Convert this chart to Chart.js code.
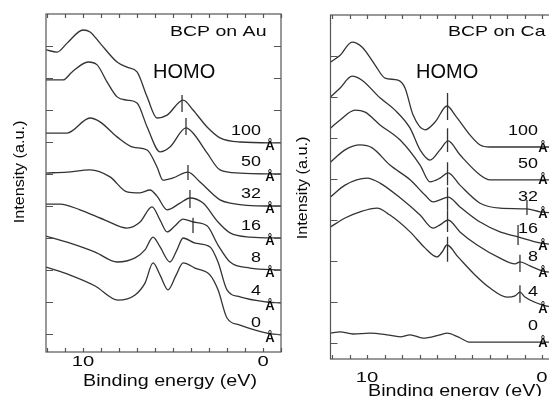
<!DOCTYPE html>
<html>
<head>
<meta charset="utf-8">
<script src="https://cdn.jsdelivr.net/npm/chart.js@4.4.0/dist/chart.umd.min.js"></script>
<style>
  html, body { margin: 0; padding: 0; background: #fff; overflow: hidden; width: 549px; height: 396px; }
  canvas { position: absolute; top: 0; }
  #chartAu { left: 0; }
  #chartCa { left: 290px; }
</style>
</head>
<body>
<canvas id="chartAu" width="290" height="396"></canvas>
<canvas id="chartCa" width="280" height="396"></canvas>
<script>
// thickness of BCP for each spectrum, top to bottom
const thicknesses = ["100", "50", "32", "16", "8", "4", "0"];

// BCP on Au: [binding energy (eV), intensity (offset units)]
const au100 = [[12.06,8.88],[11.44,8.81],[10.89,9.09],[10.0,9.5],[9.61,9.44],[9.06,9.09],[8.11,8.5],[7.56,8.34],[7.0,8.19],[6.44,7.41],[5.89,6.75],[5.33,6.84],[4.44,7.31],[3.89,7.0],[3.11,6.47],[2.39,6.13],[1.28,6.0],[-1.0,5.97]];
const au50 = [[12.06,7.94],[11.11,7.94],[10.61,8.19],[9.72,8.5],[9.22,8.41],[8.67,7.88],[8.11,7.41],[7.56,7.31],[7.0,7.22],[6.44,6.47],[5.72,5.69],[5.17,5.84],[4.28,6.44],[3.89,6.28],[3.11,5.66],[2.39,5.13],[1.28,5.03],[-1.0,5.0]];
const au32 = [[12.06,6.28],[10.89,6.28],[9.61,6.75],[9.06,6.63],[8.11,6.16],[7.22,5.84],[6.44,5.75],[5.89,5.22],[5.56,4.81],[5.0,4.88],[4.17,5.06],[3.5,4.75],[2.39,4.19],[1.83,4.09],[-0.22,4.0],[-1.0,4.0]];
const au16 = [[12.06,5.03],[10.89,5.06],[9.61,5.13],[8.5,4.91],[7.56,4.44],[6.83,4.41],[6.28,4.5],[5.89,4.31],[5.33,3.88],[4.61,4.09],[4.06,4.25],[3.33,4.09],[2.5,3.5],[1.83,3.16],[0.72,3.03],[-1.0,3.0]];
const au8 = [[12.06,4.06],[11.28,4.06],[10.17,3.88],[8.78,3.56],[7.56,3.31],[6.83,3.5],[6.17,3.97],[5.72,3.56],[5.33,3.19],[4.89,3.38],[4.44,3.59],[3.89,3.5],[3.11,3.38],[2.5,2.78],[1.83,2.25],[0.72,2.06],[-1.0,2.0]];
const au4 = [[12.06,3.06],[10.72,2.84],[9.33,2.56],[8.11,2.25],[7.11,2.38],[6.56,2.63],[6.11,3.03],[5.72,2.72],[5.17,2.25],[4.78,2.63],[4.44,3.0],[3.78,2.84],[2.94,2.72],[2.5,2.25],[2.0,1.38],[1.28,1.16],[-0.22,1.0],[-1.0,0.97]];
const au0 = [[12.06,2.09],[10.72,1.84],[9.33,1.5],[8.06,1.06],[7.11,1.22],[6.56,1.59],[6.11,2.22],[5.72,1.84],[5.28,1.38],[4.83,1.84],[4.44,2.22],[3.78,2.06],[2.94,1.84],[2.5,1.38],[2.0,0.5],[1.28,0.28],[-0.22,0.03],[-1.0,-0.03]];
// HOMO marks: [energy, low, high]
const auHomo = [[4.5,6.94,7.47],[4.28,6.22,6.75],[4.17,4.81,5.28],[4.06,3.94,4.5],[3.89,3.16,3.63]];

// BCP on Ca
const ca100 = [[12.09,6.85],[11.54,7.02],[10.86,7.34],[10.29,7.22],[9.54,6.78],[8.97,6.46],[8.23,6.41],[7.83,6.22],[7.37,5.56],[6.69,5.2],[6.11,5.39],[5.43,5.78],[4.97,5.56],[4.11,5.07],[3.54,4.83],[2.97,4.78],[-1.0,4.78]];
const ca50 = [[12.09,6.0],[11.54,6.22],[10.86,6.51],[10.29,6.41],[9.26,5.98],[8.4,5.68],[7.54,5.24],[6.97,4.71],[6.4,4.46],[5.83,4.71],[5.37,4.93],[4.69,4.59],[3.54,4.1],[2.97,3.98],[-1.0,3.98]];
const ca32 = [[12.09,5.24],[11.54,5.44],[10.69,5.68],[10.11,5.63],[9.26,5.32],[8.11,4.95],[6.97,4.34],[6.4,3.93],[5.83,4.02],[5.37,4.15],[4.69,3.85],[3.54,3.41],[2.4,3.29],[0.86,3.27],[0.11,3.2],[-1.0,3.17]];
const ca16 = [[12.09,4.41],[11.26,4.71],[10.4,4.83],[9.71,4.76],[8.69,4.34],[7.54,3.98],[6.69,3.61],[6.23,3.44],[5.83,3.49],[5.37,3.56],[4.69,3.32],[3.54,2.95],[2.4,2.71],[1.37,2.59],[0.11,2.44],[-1.0,2.39]];
const ca8 = [[12.09,3.56],[11.26,3.85],[10.0,4.02],[9.26,3.9],[8.11,3.54],[6.97,3.12],[6.23,2.8],[5.83,2.88],[5.37,3.0],[4.69,2.71],[3.71,2.39],[2.4,2.07],[1.54,1.93],[1.26,1.98],[0.69,1.88],[0.0,1.76],[-1.0,1.71]];
const ca4 = [[12.09,2.83],[11.26,3.05],[10.4,3.2],[9.43,3.29],[8.69,3.12],[7.54,2.71],[6.69,2.32],[6.0,2.1],[5.71,2.22],[5.43,2.39],[4.8,2.1],[3.83,1.66],[2.97,1.34],[2.0,1.12],[1.54,1.15],[1.26,1.24],[0.97,1.12],[0.0,0.93],[-1.0,0.85]];
const ca0 = [[12.09,0.24],[11.54,0.27],[10.8,0.22],[9.83,0.24],[8.86,0.2],[8.11,0.15],[7.54,0.2],[6.8,0.12],[5.83,0.2],[5.43,0.24],[4.8,0.15],[4.11,0.02],[-1.0,0.02]];
const caHomo = [[5.4,5.44,6.1],[5.4,4.66,5.24],[5.4,3.85,4.41],[5.4,3.24,3.8],[5.4,2.71,3.24],[5.4,1.98,2.59]];
// marks near the Fermi level
const caGap = [[0.86,3.12,3.49],[1.37,2.39,2.88],[1.26,1.73,2.15],[1.26,0.98,1.41]];

const xTickLabels = [10, 0];

const lineColor = "#333333";
const frameColor = "#555555";
const textColor = "#0a0a0a";
const fontFamily = "'Liberation Sans', Arial, Helvetica, sans-serif";

function toPoints(arr) {
  return arr.map(p => ({ x: p[0], y: p[1] }));
}

function spectrumSet(arr) {
  return {
    data: toPoints(arr),
    borderColor: lineColor,
    borderWidth: 1.3,
    pointRadius: 0,
    cubicInterpolationMode: "monotone",
    fill: false
  };
}

function markSets(marks) {
  return marks.map(m => ({
    data: [{ x: m[0], y: m[1] }, { x: m[0], y: m[2] }],
    borderColor: lineColor,
    borderWidth: 1.3,
    pointRadius: 0,
    tension: 0,
    fill: false
  }));
}

function drawText(ctx, t) {
  ctx.save();
  ctx.translate(t.x, t.y);
  if (t.rot) ctx.rotate(t.rot);
  ctx.scale(t.sx || 1, 1);
  ctx.font = (t.bold ? "bold " : "") + t.size + "px " + fontFamily;
  ctx.fillStyle = textColor;
  ctx.textAlign = t.align || "left";
  ctx.textBaseline = "middle";
  ctx.fillText(t.text, 0, 0);
  ctx.restore();
}

// box, inward ticks and all labels
const panelDeco = {
  id: "panelDeco",
  afterDraw(chart, args, o) {
    const { ctx, chartArea: a, scales: { x, y } } = chart;
    ctx.save();
    ctx.strokeStyle = frameColor;
    ctx.lineWidth = 1.2;
    ctx.strokeRect(a.left, a.top, a.right - a.left, a.bottom - a.top);
    ctx.beginPath();
    for (let e = Math.ceil(x.min); e <= x.max; e++) {
      const px = Math.round(x.getPixelForValue(e)) + 0.5;
      ctx.moveTo(px, a.bottom); ctx.lineTo(px, a.bottom - 4);
      ctx.moveTo(px, a.top); ctx.lineTo(px, a.top + 4);
    }
    for (let v = 0; v <= o.yTickMax; v++) {
      const py = Math.round(y.getPixelForValue(v)) + 0.5;
      ctx.moveTo(a.left, py); ctx.lineTo(a.left + 7, py);
      ctx.moveTo(a.right, py); ctx.lineTo(a.right - 7, py);
    }
    ctx.stroke();
    ctx.restore();

    xTickLabels.forEach(v => drawText(ctx, {
      text: String(v), x: x.getPixelForValue(v), y: o.xLabelY, size: 15, sx: 1.35, align: "center"
    }));

    o.spectra.forEach((arr, i) => {
      const base = y.getPixelForValue(arr[arr.length - 1][1]);
      drawText(ctx, { text: thicknesses[i], x: o.numX, y: base + o.numDy, size: 14, sx: 1.28, align: "right" });
      drawText(ctx, { text: "Å", x: o.unitX, y: base + o.unitDy, size: 13, bold: true, align: "center" });
    });

    o.texts.forEach(t => drawText(ctx, t));
  }
};

function makePanel(id, spectra, marks, deco, geo) {
  const datasets = spectra.map(spectrumSet).concat(markSets(marks));
  return new Chart(document.getElementById(id), {
    type: "line",
    data: { datasets },
    options: {
      responsive: false,
      animation: false,
      events: [],
      layout: { padding: { top: geo.top, right: geo.right, left: 0, bottom: 0 } },
      plugins: {
        legend: { display: false },
        tooltip: { enabled: false },
        panelDeco: Object.assign({ spectra }, deco)
      },
      scales: {
        x: {
          type: "linear", reverse: true, min: -1, max: geo.xMax,
          grid: { display: false }, border: { display: false }, ticks: { display: false },
          afterFit(s) { s.height = geo.bottomH; }
        },
        y: {
          type: "linear", min: geo.yMin, max: geo.yMax,
          grid: { display: false }, border: { display: false }, ticks: { display: false },
          afterFit(s) { s.width = geo.leftW; }
        }
      }
    },
    plugins: [panelDeco]
  });
}

makePanel("chartAu", [au100, au50, au32, au16, au8, au4, au0], auHomo, {
  yTickMax: 9, xLabelY: 362, numX: 261, numDy: -12, unitX: 270, unitDy: 3,
  texts: [
    { text: "BCP on Au", x: 170, y: 32, size: 15, sx: 1.3 },
    { text: "HOMO", x: 153, y: 72, size: 20 },
    { text: "Binding energy (eV)", x: 170, y: 382, size: 16, sx: 1.23, align: "center" },
    { text: "Intensity (a.u.)", x: 20, y: 172, size: 15, sx: 1.08, align: "center", rot: -Math.PI / 2 }
  ]
}, { top: 14, right: 9, bottomH: 44, leftW: 46, xMax: 12.06, yMin: -0.5625, yMax: 10 });

makePanel("chartCa", [ca100, ca50, ca32, ca16, ca8, ca4, ca0], caHomo.concat(caGap), {
  yTickMax: 7, xLabelY: 378, numX: 248, numDy: -16, unitX: 253, unitDy: 1,
  texts: [
    { text: "BCP on Ca", x: 158, y: 32, size: 15, sx: 1.3 },
    { text: "HOMO", x: 126, y: 72, size: 20 },
    { text: "Binding energy (eV)", x: 165, y: 392, size: 16, sx: 1.23, align: "center" },
    { text: "Intensity (a.u.)", x: 13, y: 188, size: 15, sx: 1.08, align: "center", rot: -Math.PI / 2 }
  ]
}, { top: 15, right: 10.5, bottomH: 37, leftW: 40.5, xMax: 12.09, yMin: -0.39, yMax: 8.0 });
</script>
</body>
</html>
